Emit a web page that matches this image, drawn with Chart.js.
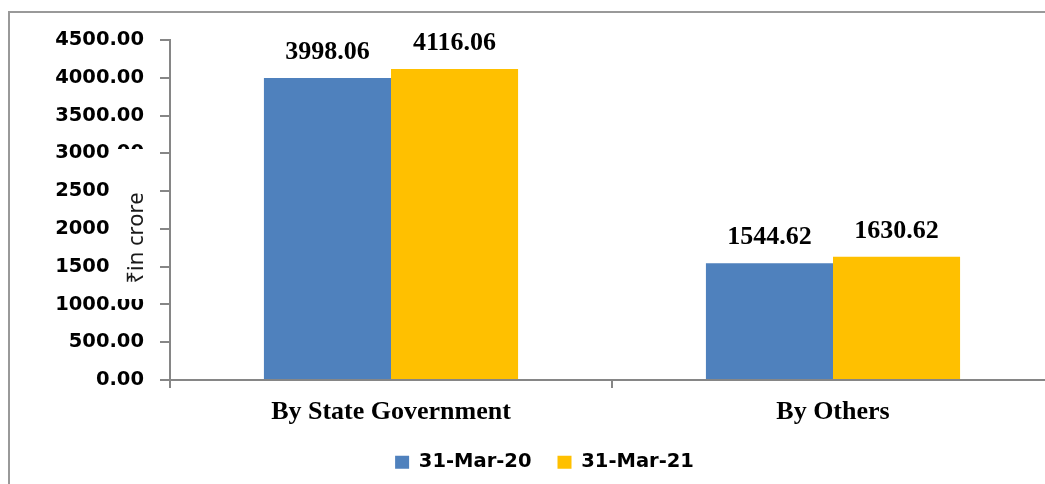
<!DOCTYPE html>
<html><head><meta charset="utf-8">
<script src="https://cdn.jsdelivr.net/npm/chart.js@4.4.1/dist/chart.umd.min.js"></script>
<style>
html,body{margin:0;padding:0;overflow:hidden;background:#fff;width:1045px;height:484px}
#wrap{position:absolute;left:0;top:0;width:1060px;height:484px}
</style>
</head><body><div id="wrap"><canvas id="c" width="1060" height="484"></canvas></div>
<script>
const categories = ['By State Government', 'By Others'];
const seriesNames = ['31-Mar-20', '31-Mar-21'];
const values2020 = [3998.06, 1544.62];
const values2021 = [4116.06, 1630.62];
const yTicks = [0, 500, 1000, 1500, 2000, 2500, 3000, 3500, 4000, 4500];
const yAxisTitle = '₹in crore';
const seriesColors = ['#4F81BD', '#FFC000'];

const axisGrey = '#868686';
const serifBold = {family: '"Liberation Serif", "Times New Roman", serif', size: 26, weight: 'bold'};
const sansBold = {family: '"DejaVu Sans", sans-serif', size: 19.5, weight: 'bold'};

const frame = {
  id: 'frame',
  beforeDraw(chart) {
    const ctx = chart.ctx;
    ctx.save();
    ctx.fillStyle = '#fff';
    ctx.fillRect(0, 0, chart.width, chart.height);
    ctx.strokeStyle = '#999999';
    ctx.lineWidth = 2;
    ctx.strokeRect(9, 12, 3000, 3000);
    ctx.restore();
  }
};

const dataLabels = {
  id: 'dataLabels',
  afterDatasetsDraw(chart) {
    const ctx = chart.ctx;
    ctx.save();
    ctx.font = 'bold 26px "Liberation Serif", "Times New Roman", serif';
    ctx.fillStyle = '#000';
    ctx.textAlign = 'center';
    ctx.textBaseline = 'alphabetic';
    chart.data.datasets.forEach((ds, di) => {
      chart.getDatasetMeta(di).data.forEach((el, i) => {
        ctx.fillText(ds.data[i].toFixed(2), el.x, el.y - 19);
      });
    });
    ctx.restore();
  }
};

const yTitle = {
  id: 'yTitle',
  afterDraw(chart) {
    const ctx = chart.ctx;
    ctx.save();
    ctx.fillStyle = '#fff';
    ctx.fillRect(110, 149, 37, 150);
    ctx.translate(143, 238);
    ctx.rotate(-Math.PI / 2);
    ctx.font = '22px "Noto Sans", "Open Sans", sans-serif';
    ctx.fillStyle = '#1a1a1a';
    ctx.textAlign = 'center';
    ctx.textBaseline = 'alphabetic';
    ctx.fillText(yAxisTitle, 0, 0);
    ctx.restore();
  }
};

new Chart(document.getElementById('c'), {
  type: 'bar',
  data: {
    labels: categories,
    datasets: [
      {label: seriesNames[0], data: values2020, backgroundColor: seriesColors[0], borderWidth: 0},
      {label: seriesNames[1], data: values2021, backgroundColor: seriesColors[1], borderWidth: 0}
    ]
  },
  options: {
    responsive: false,
    animation: false,
    devicePixelRatio: 1,
    categoryPercentage: 0.575,
    barPercentage: 1,
    layout: {padding: {left: 35, right: 6, top: 40, bottom: 2}},
    plugins: {
      tooltip: {enabled: false},
      legend: {
        position: 'bottom',
        labels: {
          boxWidth: 14, boxHeight: 13, padding: 26,
          color: '#000', font: sansBold
        }
      }
    },
    scales: {
      x: {
        grid: {offset: true, drawOnChartArea: false, drawTicks: true, tickLength: 8, color: axisGrey, lineWidth: 2},
        border: {color: axisGrey, width: 2},
        ticks: {color: '#000', font: serifBold, padding: 9, maxRotation: 0, autoSkip: false},
        afterFit(s) { s.height = 484 - 2 - s.chart.legend.height - 380; }
      },
      y: {
        min: 0, max: 4500,
        afterBuildTicks(s) { s.ticks = yTicks.map(v => ({value: v})); },
        grid: {drawOnChartArea: false, drawTicks: true, tickLength: 10, color: axisGrey, lineWidth: 2},
        border: {color: axisGrey, width: 2},
        ticks: {color: '#000', font: sansBold, padding: 16, callback: v => Number(v).toFixed(2)},
        afterFit(s) { s.width = 135; }
      }
    }
  },
  plugins: [frame, dataLabels, yTitle]
});
</script>
</body></html>
